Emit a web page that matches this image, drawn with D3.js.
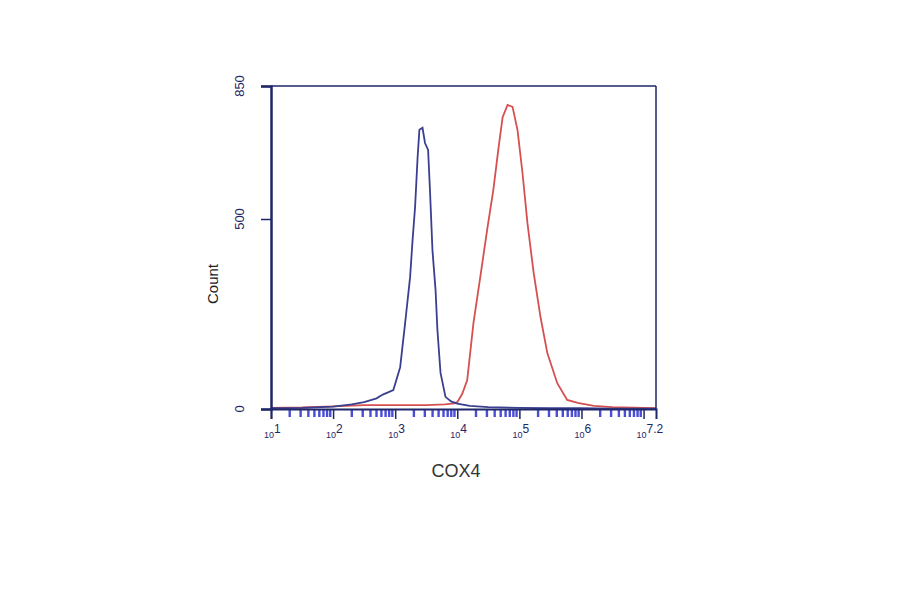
<!DOCTYPE html>
<html><head><meta charset="utf-8">
<script src="https://cdn.jsdelivr.net/npm/d3@7"></script>
<style>body{margin:0;background:#fff}svg{display:block}</style>
</head><body>
<svg id="c" width="900" height="594"></svg>
<script>
// decade exponents shown as tick labels on the log x axis
const xTickExps = ["1","2","3","4","5","6","7.2"];
const xTickVals = [1,2,3,4,5,6,7];
const yTickVals = [0,500,850];
const xTitle = "COX4";
const yTitle = "Count";

// blue histogram (isotype/control): log10 fluorescence, count
const blueLog   = [1.0,1.5,2.0,2.3,2.5,2.7,2.8,2.97,3.08,3.16,3.24,3.28,3.32,3.36,3.39,3.44,3.48,3.53,3.56,3.6,3.65,3.68,3.73,3.81,3.9,4.0,4.2,4.5,5.0,5.5,6.0,6.5,7.2];
const blueCount = [2,3,6,12,18,28,38,50,110,226,347,445,531,660,735,740,700,682,576,418,313,208,95,32,20,14,8,5,3,2,2,1,1];
// red histogram (COX4 stained)
const redLog   = [1.0,1.5,2.0,2.5,3.0,3.5,3.8,3.95,4.0,4.08,4.16,4.26,4.37,4.48,4.58,4.66,4.73,4.81,4.89,4.97,5.05,5.13,5.23,5.34,5.45,5.61,5.77,5.94,6.2,6.5,7.0,7.2];
const redCount = [3,4,7,10,10,10,12,15,18,40,76,226,347,471,576,682,768,800,795,734,621,489,358,242,147,68,24,16,8,5,3,2];

const svg = d3.select("#c");
const L = 271, R = 656, T = 86, B = 409;
const x = d3.scaleLinear().domain([1, 7.2]).range([L, R]);
const y = d3.scaleLinear().domain([0, 850]).range([B, T]);
const navy = "#1e2768";

// minor blue ticks (log 2..9 within each decade)
const minors = [];
for (let d = 1; d < 7.2; d++) for (let k = 2; k <= 9; k++) {
  const v = d + Math.log10(k); if (v <= 7.2) minors.push(v);
}
svg.append("g").selectAll("line").data(minors).join("line")
  .attr("x1", d => x(d)).attr("x2", d => x(d))
  .attr("y1", B).attr("y2", B + 8)
  .attr("stroke", "#2b2fd0").attr("stroke-width", 2.4).attr("opacity", 0.85);

// curves
const line = d3.line().x(d => x(d[0])).y(d => y(d[1])).curve(d3.curveLinear);
svg.append("path").datum(redLog.map((v,i)=>[v,redCount[i]]))
  .attr("d", line).attr("fill","none").attr("stroke","#d65050").attr("stroke-width",1.8);
svg.append("path").datum(blueLog.map((v,i)=>[v,blueCount[i]]))
  .attr("d", line).attr("fill","none").attr("stroke","#3b3f8f").attr("stroke-width",1.8);

// frame
svg.append("line").attr("x1",L).attr("x2",R).attr("y1",T).attr("y2",T).attr("stroke",navy).attr("stroke-width",1.5);
svg.append("line").attr("x1",R).attr("x2",R).attr("y1",T).attr("y2",B).attr("stroke",navy).attr("stroke-width",1.5);

// x axis
const xAxis = d3.axisBottom(x).tickValues(xTickVals).tickSize(10).tickFormat("");
const gx = svg.append("g").attr("transform",`translate(0,${B})`).call(xAxis);
gx.select(".domain").attr("stroke",navy).attr("stroke-width",2);
gx.selectAll(".tick line").attr("stroke",navy).attr("stroke-width",1.5);
const lbl = svg.append("g").selectAll("text").data(xTickVals).join("text")
  .attr("x", d => x(d) - 7).attr("y", 438)
  .attr("font-family","Liberation Sans, Arial, sans-serif").attr("fill",navy).attr("font-size",9);
lbl.append("tspan").text("10");
lbl.append("tspan").attr("dy",-5).attr("font-size",12).text((d,i)=>xTickExps[i]);

// y axis
const yAxis = d3.axisLeft(y).tickValues(yTickVals).tickSize(10).tickFormat("");
const gy = svg.append("g").attr("transform",`translate(${L},0)`).call(yAxis);
gy.select(".domain").attr("stroke",navy).attr("stroke-width",2.5);
gy.selectAll(".tick line").attr("stroke",navy).attr("stroke-width",1.5);
svg.append("g").selectAll("text").data(yTickVals).join("text")
  .attr("transform", d => `translate(244,${y(d)}) rotate(-90)`)
  .attr("text-anchor","middle")
  .attr("font-family","Liberation Sans, Arial, sans-serif").attr("font-size",13).attr("fill",navy)
  .text(d => d);

// titles
svg.append("text").attr("transform","translate(218,284) rotate(-90)").attr("text-anchor","middle")
  .attr("font-family","Liberation Sans, Arial, sans-serif").attr("font-size",15).attr("fill","#222")
  .text(yTitle);
svg.append("text").attr("x",456).attr("y",477).attr("text-anchor","middle")
  .attr("font-family","Liberation Sans, Arial, sans-serif").attr("font-size",18).attr("fill","#333")
  .text(xTitle);
</script>
</body></html>
